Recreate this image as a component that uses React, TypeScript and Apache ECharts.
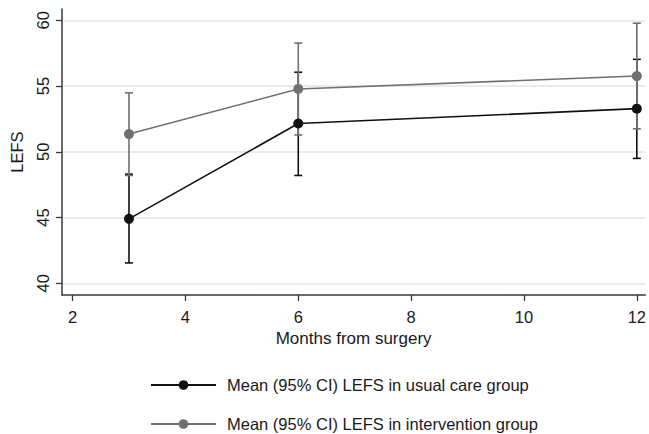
import React, { useEffect, useRef } from "react";
import * as echarts from "echarts";

const months = [3, 6, 12];
const usualMean = [44.9, 52.15, 53.28];
const usualLower = [41.55, 48.2, 49.5];
const usualUpper = [48.3, 56.05, 57.03];
const interventionMean = [51.35, 54.78, 55.76];
const interventionLower = [48.2, 51.28, 51.75];
const interventionUpper = [54.48, 58.27, 59.78];
const xTicks = [2, 4, 6, 8, 10, 12];
const yTicks = [40, 45, 50, 55, 60];
const usualName = "Mean (95% CI) LEFS in usual care group";
const interventionName = "Mean (95% CI) LEFS in intervention group";

const FONT = "'Liberation Sans', Arial, sans-serif";
const BLACK = "#111111";
const GRAY = "#707070";
const AXIS = "#3a3a3a";
const TEXT = "#1a1a1a";

function errorBarSeries(name: string, lower: number[], upper: number[], color: string, z: number) {
  return {
    type: "custom",
    name: name + " CI",
    z,
    silent: true,
    encode: { x: 0, y: [1, 2] },
    data: months.map((m, i) => [m, lower[i], upper[i]]),
    renderItem: (params: any, api: any) => {
      const x = api.value(0);
      const lo = api.coord([x, api.value(1)]);
      const hi = api.coord([x, api.value(2)]);
      const hw = 4;
      const style = { stroke: color, lineWidth: 1.6, fill: "none" };
      return {
        type: "group",
        children: [
          { type: "line", shape: { x1: hi[0], y1: hi[1], x2: lo[0], y2: lo[1] }, style },
          { type: "line", shape: { x1: hi[0] - hw, y1: hi[1], x2: hi[0] + hw, y2: hi[1] }, style },
          { type: "line", shape: { x1: lo[0] - hw, y1: lo[1], x2: lo[0] + hw, y2: lo[1] }, style },
        ],
      };
    },
  };
}

function legendFor(name: string, top: number) {
  return {
    orient: "horizontal",
    left: 150,
    top,
    padding: 0,
    itemWidth: 65,
    itemHeight: 12,
    data: [name],
    textStyle: { fontFamily: FONT, fontSize: 16.5, color: TEXT, lineHeight: 20, padding: [0, 0, 0, 6] },
  };
}

export default function App() {
  const ref = useRef<HTMLDivElement>(null);
  useEffect(() => {
    if (!ref.current) return;
    const chart = echarts.init(ref.current, undefined, { renderer: "svg" });
    chart.setOption({
      animation: false,
      backgroundColor: "#ffffff",
      textStyle: { fontFamily: FONT },
      grid: { left: 62, right: 1, top: 9, bottom: 139, containLabel: false },
      legend: [legendFor(usualName, 375), legendFor(interventionName, 414)],
      xAxis: {
        type: "value",
        min: 1.813,
        max: 12.15,
        name: "Months from surgery",
        nameLocation: "middle",
        nameGap: 35,
        nameTextStyle: { fontFamily: FONT, fontSize: 17, color: TEXT },
        axisLine: { show: true, onZero: false, lineStyle: { color: AXIS, width: 1.5 } },
        axisTick: { show: true, length: 6, customValues: xTicks, lineStyle: { color: AXIS, width: 1.3 } },
        axisLabel: { customValues: xTicks, margin: 13, fontSize: 16.5, color: TEXT, fontFamily: FONT },
        splitLine: { show: false },
      },
      yAxis: {
        type: "value",
        min: 39.11,
        max: 60.86,
        name: "LEFS",
        nameLocation: "middle",
        nameGap: 37,
        nameTextStyle: { fontFamily: FONT, fontSize: 16.5, color: TEXT },
        axisLine: { show: true, onZero: false, lineStyle: { color: AXIS, width: 1.5 } },
        axisTick: { show: true, length: 6, customValues: yTicks, lineStyle: { color: AXIS, width: 1.3 } },
        axisLabel: { customValues: yTicks, rotate: 90, margin: 11, fontSize: 16.5, color: TEXT, fontFamily: FONT },
        splitLine: { show: true, lineStyle: { color: "#e4e4e4", width: 1.5 } },
      },
      series: [
        errorBarSeries(usualName, usualLower, usualUpper, BLACK, 1),
        errorBarSeries(interventionName, interventionLower, interventionUpper, GRAY, 2),
        {
          type: "line",
          name: interventionName,
          z: 3,
          data: months.map((m, i) => [m, interventionMean[i]]),
          symbol: "circle",
          symbolSize: 10,
          showSymbol: true,
          color: GRAY,
          lineStyle: { color: GRAY, width: 1.6 },
          itemStyle: { color: GRAY },
        },
        {
          type: "line",
          name: usualName,
          z: 4,
          data: months.map((m, i) => [m, usualMean[i]]),
          symbol: "circle",
          symbolSize: 10,
          showSymbol: true,
          color: BLACK,
          lineStyle: { color: BLACK, width: 1.6 },
          itemStyle: { color: BLACK },
        },
      ],
    });
    return () => chart.dispose();
  }, []);
  return (
    <div
      ref={ref}
      style={{ position: "fixed", left: 0, top: 0, width: 649, height: 434, background: "#fff" }}
    />
  );
}
